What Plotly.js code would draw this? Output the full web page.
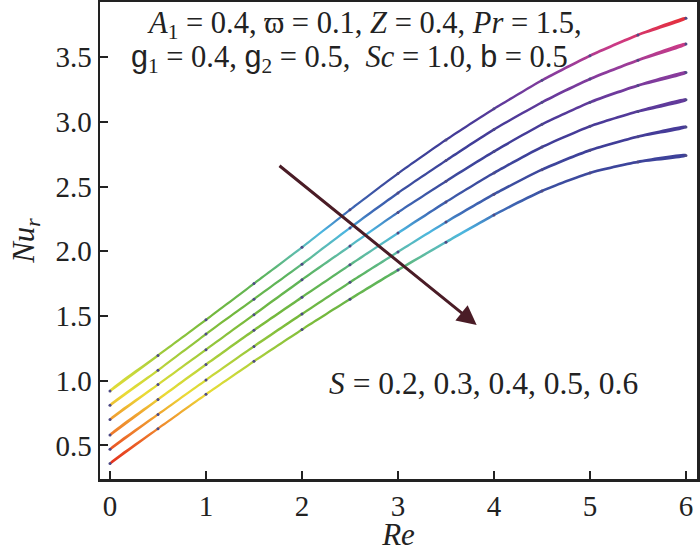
<!DOCTYPE html>
<html>
<head>
<meta charset="utf-8">
<script src="https://cdn.plot.ly/plotly-3.0.1.min.js"></script>
<style>html,body{margin:0;padding:0;background:#fff;}#chart{width:700px;height:552px;}</style>
</head>
<body>
<div id="chart"></div>
<script>
// ---- data ----
const Re = [0, 0.5, 1, 1.5, 2, 2.5, 3, 3.5, 4, 4.5, 5, 5.5, 6];
const Nu_1 = [0.92, 1.195, 1.47, 1.75, 2.03, 2.32, 2.60, 2.86, 3.10, 3.32, 3.51, 3.67, 3.80];
const Nu_2 = [0.81, 1.08, 1.36, 1.63, 1.90, 2.18, 2.45, 2.70, 2.94, 3.15, 3.33, 3.475, 3.60];
const Nu_3 = [0.70, 0.97, 1.24, 1.51, 1.78, 2.04, 2.30, 2.54, 2.77, 2.98, 3.15, 3.28, 3.38];
const Nu_4 = [0.58, 0.855, 1.125, 1.39, 1.645, 1.895, 2.14, 2.38, 2.605, 2.805, 2.965, 3.08, 3.17];
const Nu_5 = [0.47, 0.74, 1.005, 1.265, 1.515, 1.76, 1.995, 2.225, 2.44, 2.63, 2.78, 2.885, 2.96];
const Nu_6 = [0.36, 0.63, 0.895, 1.15, 1.395, 1.63, 1.855, 2.07, 2.28, 2.465, 2.605, 2.69, 2.74];
const curves = [Nu_1, Nu_2, Nu_3, Nu_4, Nu_5, Nu_6];

const xTicks = [0, 1, 2, 3, 4, 5, 6];
const yTicks = [0.5, 1.0, 1.5, 2.0, 2.5, 3.0, 3.5];
const yTickText = ['0.5', '1.0', '1.5', '2.0', '2.5', '3.0', '3.5'];

const SANS_SPAN = '<span style="font-family:\'Liberation Sans\'">';
const paramLine1 = '<i>A</i><sub>1</sub> = 0.4, ϖ = 0.1, <i>Z</i> = 0.4, <i>Pr</i> = 1.5,';
const paramLine2 = SANS_SPAN + 'g</span><sub>1</sub> = 0.4, ' + SANS_SPAN + 'g</span><sub>2</sub> = 0.5,  <i>Sc</i> = 1.0, ' + SANS_SPAN + 'b</span> = 0.5';
const sLabel = '<i>S</i> = 0.2, 0.3, 0.4, 0.5, 0.6';
const arrowTail = [1.75, 2.67];
const arrowHead = [3.82, 1.43];

// ---- styles ----
const SERIF = 'Liberation Serif';
const INK = '#222222';
const bandHalf = 0.011;
const gradStart = 0.30, gradStop = 3.85;
const yColorStops = [
  [0.30, '#e0201c'], [0.45, '#e84a22'], [0.60, '#ee7c2c'], [0.75, '#f0a830'],
  [0.90, '#eadc36'], [1.05, '#c8d83a'], [1.25, '#98c83c'], [1.50, '#74b83c'],
  [1.80, '#5cb45c'], [2.00, '#5ebcac'], [2.15, '#4cb6e0'], [2.30, '#3e6cb8'],
  [2.50, '#3c4ea0'], [2.80, '#3e3e98'], [3.00, '#4a3a98'], [3.20, '#6a3a9c'],
  [3.40, '#903c9c'], [3.60, '#cc3a86'], [3.85, '#ec2c24']
];
const colorscale = yColorStops.map(s => [(s[0] - gradStart) / (gradStop - gradStart), s[1]]);

// A thin closed band around each curve (lower edge, end cap through the
// curve's own end point, upper edge reversed, start cap) filled with a
// vertical colour gradient, so the line colour follows Nu_r like the original.
const traces = [];
curves.forEach(ys => {
  const n = Re.length;
  const bandX = Re.concat([Re[n - 1]], Re.slice().reverse(), [Re[0]]);
  const bandY = ys.map(v => v - bandHalf).concat([ys[n - 1]], ys.map(v => v + bandHalf).reverse(), [ys[0]]);
  traces.push({
    type: 'scatter', mode: 'lines', x: bandX, y: bandY,
    line: {width: 0.5, color: 'rgba(0,0,0,0)', shape: 'spline', smoothing: 0.6}, fill: 'toself',
    fillgradient: {type: 'vertical', start: gradStart, stop: gradStop, colorscale: colorscale},
    hoverinfo: 'skip', showlegend: false
  });
});
curves.forEach(ys => {
  traces.push({
    type: 'scatter', mode: 'markers', x: Re, y: ys,
    marker: {size: 3, color: '#4e4a86'}, hoverinfo: 'skip', showlegend: false
  });
});

const layout = {
  width: 700, height: 552,
  margin: {l: 100, r: 3, t: 2, b: 73},
  paper_bgcolor: '#ffffff', plot_bgcolor: '#ffffff',
  showlegend: false,
  font: {family: SERIF, color: INK, size: 29},
  xaxis: {
    range: [-0.104, 6.115], tickvals: xTicks, ticktext: xTicks.map(String),
    ticks: 'inside', ticklen: 8, tickwidth: 2, tickcolor: INK,
    showline: true, mirror: true, linewidth: 2.5, linecolor: INK,
    showgrid: false, zeroline: false,
    tickfont: {family: SERIF, size: 29, color: INK},
    title: {text: '<i>Re</i>', font: {family: SERIF, size: 31, color: INK}, standoff: 3}
  },
  yaxis: {
    range: [0.241, 3.925], tickvals: yTicks, ticktext: yTickText,
    ticks: 'inside', ticklen: 8, tickwidth: 2, tickcolor: INK,
    showline: true, mirror: true, linewidth: 2.5, linecolor: INK,
    showgrid: false, zeroline: false,
    tickfont: {family: SERIF, size: 29, color: INK},
    title: {text: '<i>Nu<sub>r</sub></i>', font: {family: SERIF, size: 31, color: INK}, standoff: 12}
  },
  annotations: [
    {x: 2.65, y: 3.75, xref: 'x', yref: 'y', text: paramLine1, showarrow: false,
     font: {family: SERIF, size: 30.5, color: INK}, xanchor: 'center', yanchor: 'middle'},
    {x: 2.49, y: 3.49, xref: 'x', yref: 'y', text: paramLine2, showarrow: false,
     font: {family: SERIF, size: 30.5, color: INK}, xanchor: 'center', yanchor: 'middle'},
    {x: 3.896, y: 0.975, xref: 'x', yref: 'y', text: sLabel, showarrow: false,
     font: {family: SERIF, size: 31.5, color: INK}, xanchor: 'center', yanchor: 'middle'},
    {x: arrowHead[0], y: arrowHead[1], ax: arrowTail[0], ay: arrowTail[1],
     xref: 'x', yref: 'y', axref: 'x', ayref: 'y', text: '', showarrow: true,
     arrowhead: 2, arrowsize: 1.3, arrowwidth: 3, arrowcolor: '#4a1c26'}
  ]
};

Plotly.newPlot('chart', traces, layout, {staticPlot: true, displayModeBar: false});
</script>
</body>
</html>
